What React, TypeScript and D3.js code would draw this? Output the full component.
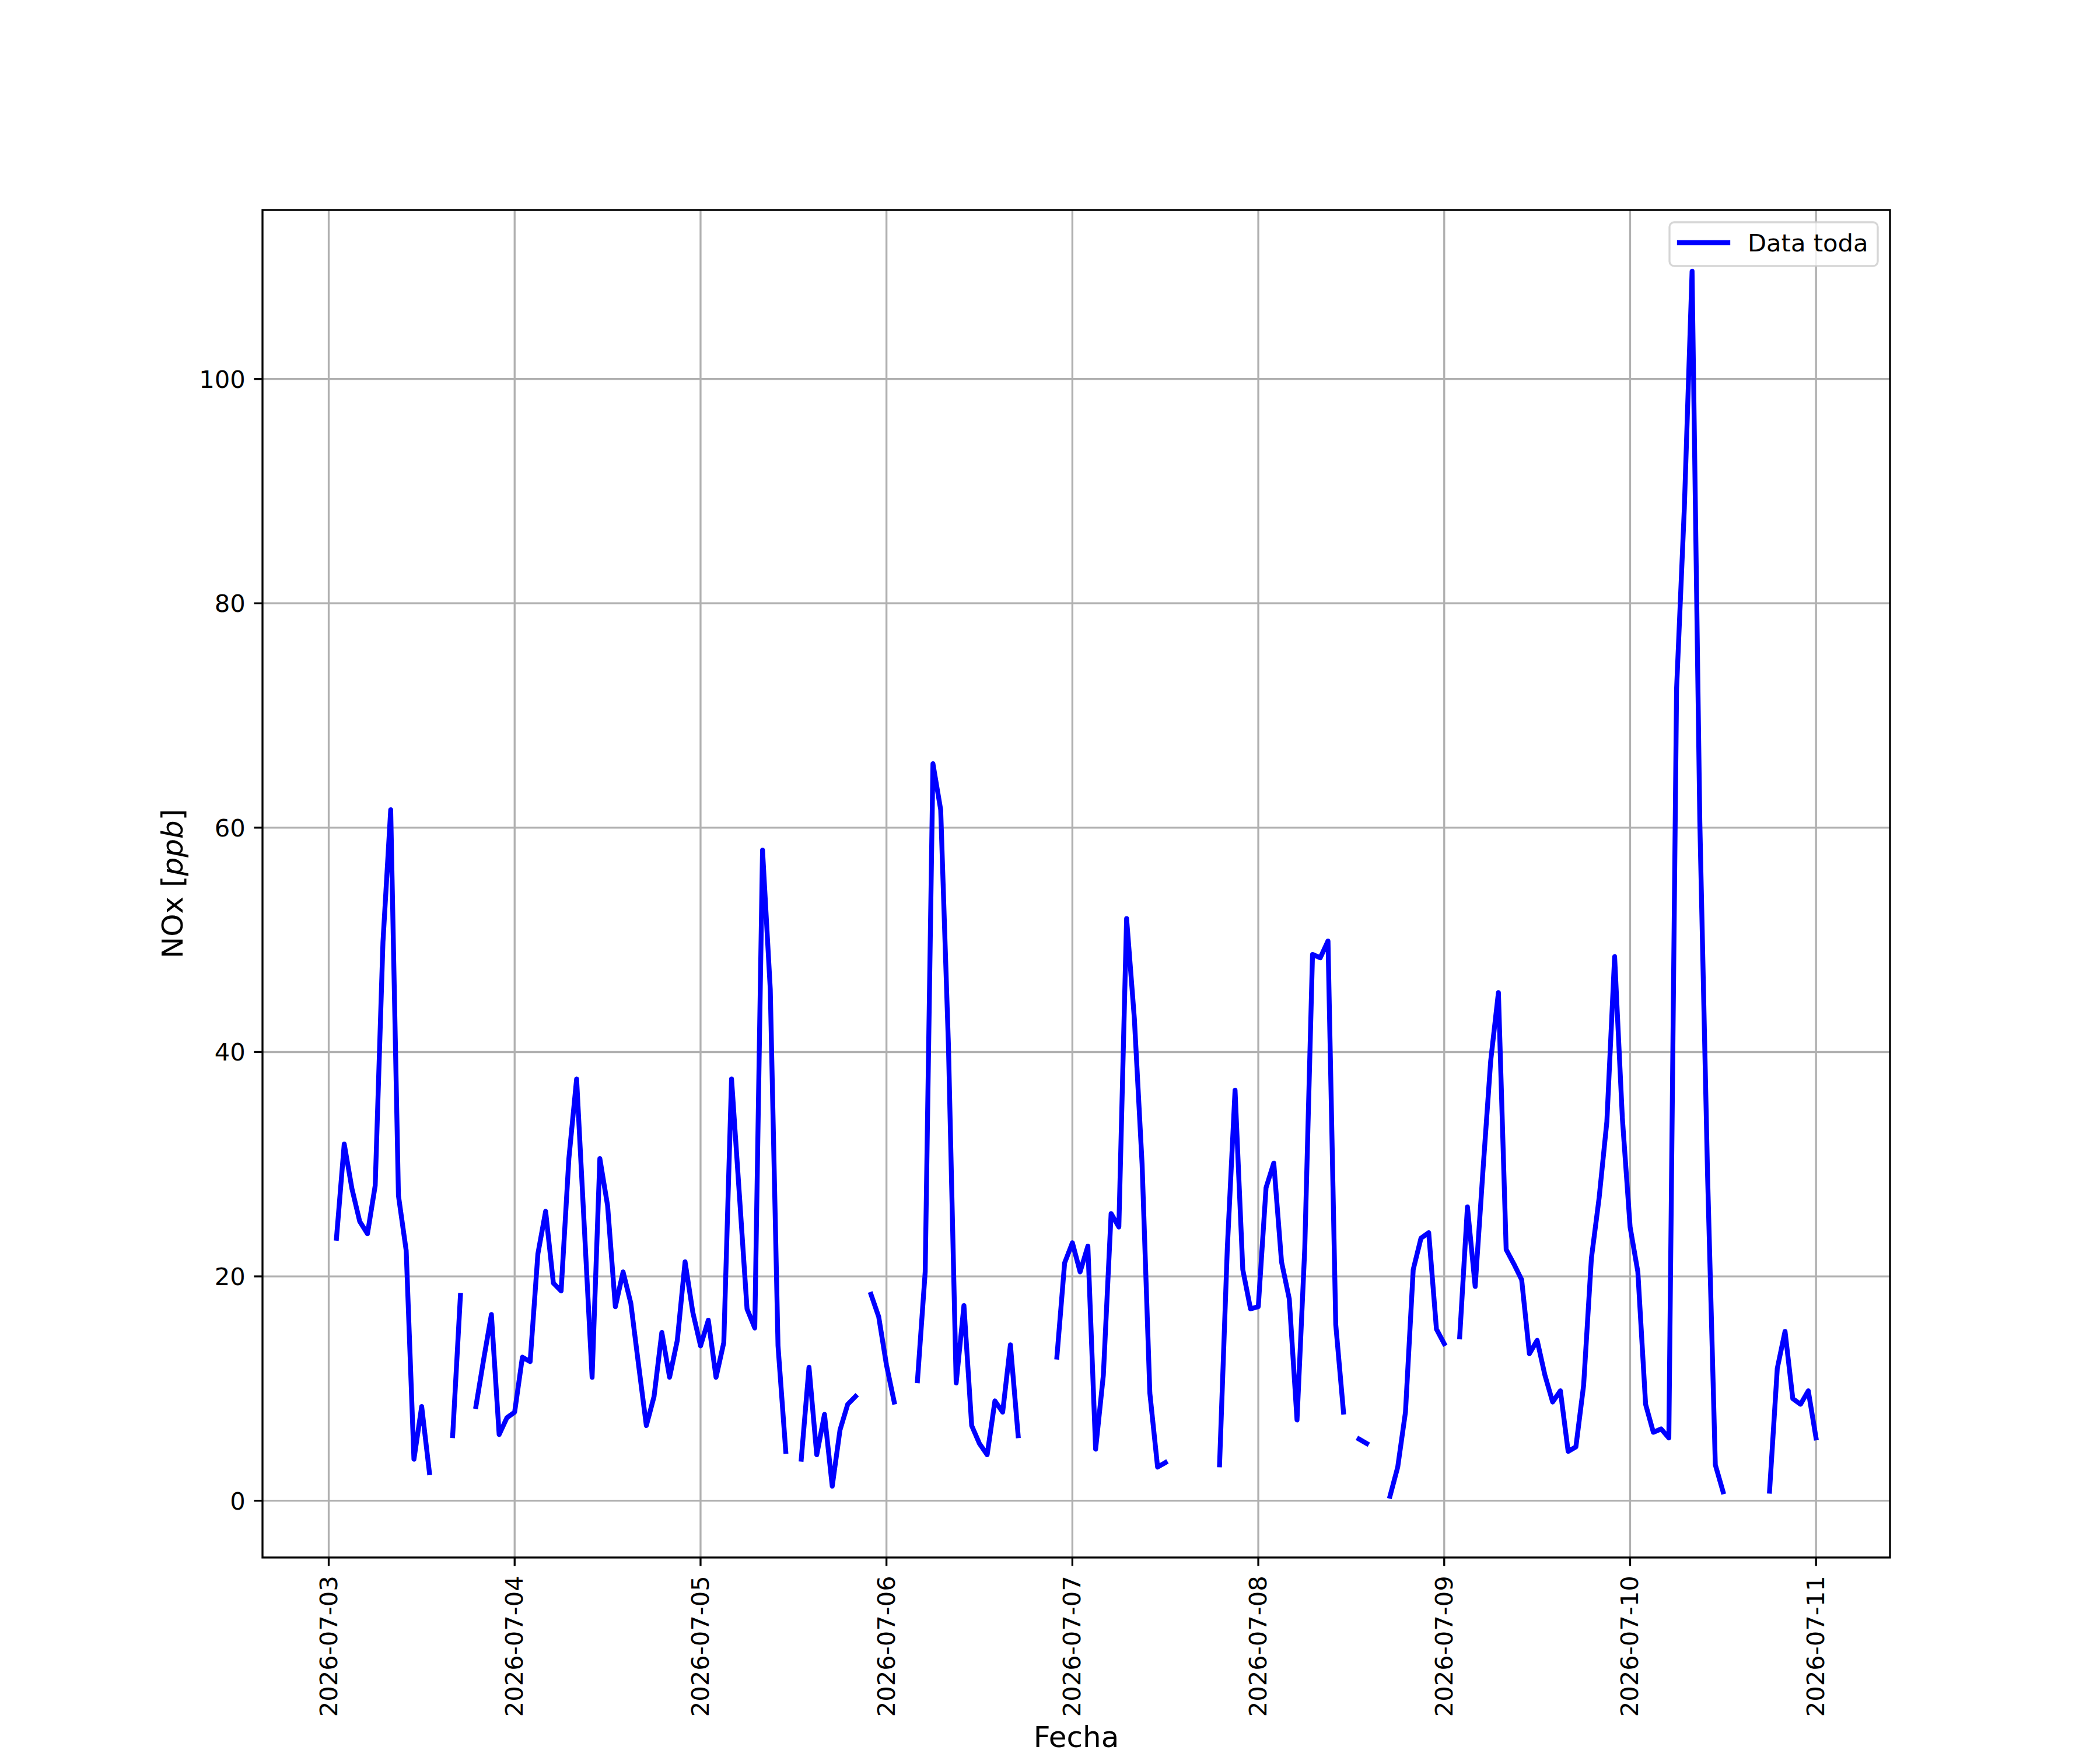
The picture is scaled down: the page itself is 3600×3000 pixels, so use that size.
import * as d3 from 'd3';

// hourly NOx readings, one array per day (00:00 .. 23:00 UTC), null = no data
const nox_0703 = [null, 23.4, 31.8, 27.8, 24.9, 23.8, 28.1, 49.8, 61.6, 27.2, 22.3, 3.7, 8.4, 2.5, null, null, 5.8, 18.3, null, 8.4, 12.6, 16.6, 5.9, 7.4];
const nox_0704 = [7.9, 12.8, 12.4, 22.0, 25.8, 19.4, 18.7, 30.5, 37.6, 24.3, 11.0, 30.5, 26.3, 17.3, 20.4, 17.6, 12.1, 6.7, 9.3, 15.0, 11.0, 14.3, 21.3, 16.8];
const nox_0705 = [13.8, 16.1, 11.0, 14.1, 37.6, 27.4, 17.1, 15.4, 58.0, 45.6, 13.8, 4.4, null, 3.7, 11.9, 4.1, 7.7, 1.3, 6.3, 8.6, 9.3, null, 18.4, 16.4];
const nox_0706 = [12.1, 8.8, null, null, 10.7, 20.4, 65.7, 61.6, 40.6, 10.5, 17.4, 6.7, 5.1, 4.1, 8.9, 7.9, 13.9, 5.8, null, null, null, null, 12.8, 21.2];
const nox_0707 = [23.0, 20.4, 22.7, 4.6, 11.2, 25.6, 24.4, 51.9, 43.0, 30.0, 9.6, 3.0, 3.4, null, null, null, null, null, null, 3.2, 22.5, 36.6, 20.6, 17.1];
const nox_0708 = [17.3, 27.9, 30.1, 21.3, 18.0, 7.2, 22.5, 48.7, 48.4, 49.9, 15.7, 7.9, null, 5.5, 5.1, null, null, 0.4, 3.0, 7.9, 20.6, 23.4, 23.9, 15.3];
const nox_0709 = [14.0, null, 14.6, 26.2, 19.1, 29.4, 39.2, 45.3, 22.4, 21.1, 19.7, 13.1, 14.3, 11.2, 8.8, 9.8, 4.4, 4.8, 10.3, 21.6, 27.0, 33.8, 48.5, 34.1];
const nox_0710 = [24.4, 20.4, 8.6, 6.1, 6.4, 5.6, 72.4, 88.5, 109.6, 60.5, 29.0, 3.2, 0.8, null, null, null, null, null, 0.85, 11.8, 15.1, 9.1, 8.6, 9.8];
const nox_0711 = [5.6];

const dailyValues = [nox_0703, nox_0704, nox_0705, nox_0706, nox_0707, nox_0708, nox_0709, nox_0710, nox_0711];
const yTicks = [0, 20, 40, 60, 80, 100];
const seriesLabel = 'Data toda';

type Pt = { t: Date; v: number | null };

const points: Pt[] = dailyValues.flatMap((vals, i) =>
  vals.map((v, h) => ({ t: new Date(Date.UTC(2026, 6, 3 + i, h)), v }))
);

const W = 3600;
const H = 3000;
const PT = 300 / 72;
const left = 450;
const right = 3240;
const top = 360;
const bottom = 2670;
const FONT = '"DejaVu Sans", sans-serif';
const FS = 10 * PT;
const LABEL_FS = 12 * PT;
const LW = 2 * PT;

const App = () => {
  const valid = points.filter((d) => d.v != null);
  const [t0, t1] = d3.extent(valid, (d) => d.t.getTime()) as [number, number];
  const [v0, v1] = d3.extent(valid, (d) => d.v as number) as [number, number];
  const tPad = (t1 - t0) * 0.05;
  const vPad = (v1 - v0) * 0.05;

  const x = d3.scaleUtc().domain([new Date(t0 - tPad), new Date(t1 + tPad)]).range([left, right]);
  const y = d3.scaleLinear().domain([v0 - vPad, v1 + vPad]).range([bottom, top]);

  const xTicks = d3.utcDay.range(d3.utcDay.ceil(x.domain()[0]), x.domain()[1]);
  const fmt = d3.utcFormat('%Y-%m-%d');

  const line = d3
    .line<Pt>()
    .defined((d) => d.v != null)
    .x((d) => x(d.t))
    .y((d) => y(d.v as number));

  const tickLen = 3.5 * PT;
  const pad = 3.5 * PT;
  const gridW = 0.8 * PT;

  return (
    <svg width={W} height={H} style={{ position: 'absolute', left: 0, top: 0, background: '#fff' }} fontFamily={FONT}>
      <rect x={0} y={0} width={W} height={H} fill="#fff" />
      {/* grid */}
      <g stroke="#b0b0b0" strokeWidth={gridW}>
        {xTicks.map((t) => (
          <line key={'gx' + t.getTime()} x1={x(t)} x2={x(t)} y1={top} y2={bottom} />
        ))}
        {yTicks.map((v) => (
          <line key={'gy' + v} x1={left} x2={right} y1={y(v)} y2={y(v)} />
        ))}
      </g>
      {/* data */}
      <path
        d={line(points) || ''}
        fill="none"
        stroke="#0000ff"
        strokeWidth={LW}
        strokeLinejoin="round"
        strokeLinecap="square"
      />
      {/* frame */}
      <rect x={left} y={top} width={right - left} height={bottom - top} fill="none" stroke="#000" strokeWidth={gridW} />
      {/* x ticks */}
      <g>
        {xTicks.map((t) => (
          <g key={'tx' + t.getTime()}>
            <line x1={x(t)} x2={x(t)} y1={bottom} y2={bottom + tickLen} stroke="#000" strokeWidth={gridW} />
            <text
              transform={`translate(${x(t) + 14},${bottom + tickLen + pad + 2}) rotate(-90)`}
              textAnchor="end"
              fontSize={FS}
              fill="#000"
            >
              {fmt(t)}
            </text>
          </g>
        ))}
      </g>
      {/* y ticks */}
      <g>
        {yTicks.map((v) => (
          <g key={'ty' + v}>
            <line x1={left - tickLen} x2={left} y1={y(v)} y2={y(v)} stroke="#000" strokeWidth={gridW} />
            <text x={left - tickLen - pad} y={y(v)} dy="0.36em" textAnchor="end" fontSize={FS} fill="#000">
              {v}
            </text>
          </g>
        ))}
      </g>
      {/* axis labels */}
      <text x={(left + right) / 2} y={2995} textAnchor="middle" fontSize={LABEL_FS} fill="#000">
        Fecha
      </text>
      <text transform={`translate(313,${(top + bottom) / 2}) rotate(-90)`} textAnchor="middle" fontSize={LABEL_FS} fill="#000">
        NOx [<tspan fontStyle="italic">ppb</tspan>]
      </text>
      {/* legend */}
      <g>
        <rect
          x={2862}
          y={381}
          width={3219 - 2862}
          height={456 - 381}
          rx={8}
          fill="#fff"
          fillOpacity={0.8}
          stroke="#cccccc"
          strokeOpacity={0.8}
          strokeWidth={gridW}
        />
        <line x1={2879} x2={2962} y1={416} y2={416} stroke="#0000ff" strokeWidth={LW} strokeLinecap="square" />
        <text x={2996} y={431} fontSize={FS} fill="#000">
          {seriesLabel}
        </text>
      </g>
    </svg>
  );
};

export default App;
